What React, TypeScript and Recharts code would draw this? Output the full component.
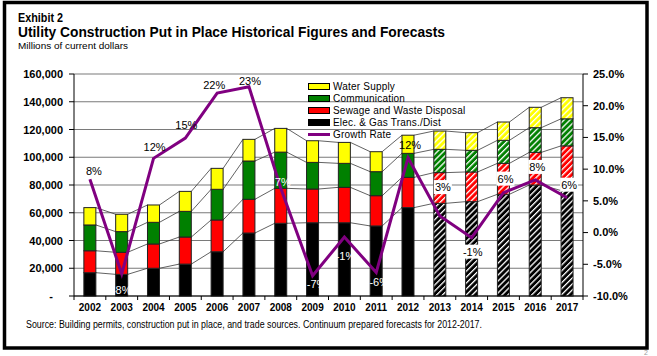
// Utility construction put in place: stacked bars + growth rate line (Recharts)

import { ComposedChart, Bar, Line, XAxis, YAxis, CartesianGrid, LabelList } from 'recharts';

const years = ['2002', '2003', '2004', '2005', '2006', '2007', '2008', '2009', '2010', '2011', '2012', '2013', '2014', '2015', '2016', '2017'];

// millions of current dollars
const elecGas = [16800, 15600, 20000, 23000, 31900, 45400, 52400, 52800, 52800, 50500, 63700, 66800, 68000, 73300, 80000, 76000];
const sewage = [15800, 15900, 17500, 19500, 22900, 24300, 25200, 24300, 25500, 21800, 21800, 22100, 21400, 22300, 23500, 32200];
const communication = [18600, 14900, 15600, 18500, 22100, 27600, 26100, 19200, 17300, 17300, 17300, 16800, 15600, 16600, 17800, 19500];
const waterSupply = [12500, 12500, 12500, 14400, 15100, 15600, 17100, 15600, 15100, 14400, 13100, 13200, 12700, 13200, 14700, 15200];

// percent
const growthRate = [8.4, -6.5, 11.7, 14.9, 22.0, 23.0, 7.0, -6.8, -0.7, -6.3, 11.8, 2.6, -0.8, 6.3, 8.3, 5.5];
const growthLabels = ['8%', '-8%', '12%', '15%', '22%', '23%', '7%', '-7%', '-1%', '-6%', '12%', '3%', '-1%', '6%', '8%', '6%'];

const leftTicks = [0, 20000, 40000, 60000, 80000, 100000, 120000, 140000, 160000];
const rightTicks = [-10, -5, 0, 5, 10, 15, 20, 25];

const FIRST_FORECAST = 11;

const rows = years.map((year, i) => ({
  year,
  elec: elecGas[i],
  sewage: sewage[i],
  comm: communication[i],
  water: waterSupply[i],
  growth: growthRate[i],
}));

const STACK = ['elec', 'sewage', 'comm', 'water'];

const W = 657;
const H = 356;
const PLOT_LEFT = 74;
const PLOT_RIGHT = 583;
const PLOT_BOTTOM = 296;
const RIGHT_AXIS_W = 60;
const BAND = (PLOT_RIGHT - PLOT_LEFT) / years.length;
const FONT = '"Liberation Sans", Arial, sans-serif';

// label placement for the growth rate points (offsets from the point)
const labelDx = [4, 0, 1, 1, -3, 1, 2, 4, 1, 3, 2, 3, 1, 2, 2, 2];
const labelDy = [-8, 16, -11, -13, -8, -6, -6, 8, 19, 9, -13, -29, 14, -14, -13, -13];
const whiteText = [1, 7, 8, 9, 6];

const cumTo = (row: any, key: string) => {
  let s = 0;
  for (const k of STACK) {
    s += row[k];
    if (k === key) break;
  }
  return s;
};

function makeShape(key: string, color: string, pattern: string) {
  return (props: any) => {
    const { x, y, width, height, index } = props;
    if (!height || height <= 0) return <g />;
    const row = rows[index];
    const next = rows[index + 1];
    const fill = index >= FIRST_FORECAST ? `url(#${pattern})` : color;
    let connector = null;
    if (next) {
      const k = height / row[key];
      const zero = y + height + (cumTo(row, key) - row[key]) * k;
      const nextTop = zero - cumTo(next, key) * k;
      connector = (
        <line x1={x + width} y1={y} x2={x + BAND} y2={nextTop} stroke="#3a3a3a" strokeWidth={0.8} />
      );
    }
    return (
      <g>
        <rect x={x} y={y} width={width} height={height} fill={fill} stroke="#222" strokeWidth={1} />
        {connector}
      </g>
    );
  };
}

const GrowthLabel = (props: any) => {
  const { x, y, index } = props;
  if (x == null || y == null) return null;
  const cx = x + labelDx[index];
  const cy = y + labelDy[index];
  const text = growthLabels[index];
  const boxed = index >= FIRST_FORECAST;
  const w = text.length * 6 + 6;
  return (
    <g>
      {boxed && <rect x={cx - w / 2} y={cy - 7} width={w} height={14} fill="#fff" />}
      <text
        x={cx}
        y={cy}
        textAnchor="middle"
        dominantBaseline="central"
        fontSize={11}
        fontFamily={FONT}
        fill={whiteText.includes(index) ? '#fff' : '#000'}
      >
        {text}
      </text>
    </g>
  );
};

const XTick = (props: any) => {
  const { x, payload, index } = props;
  return (
    <g>
      <line x1={x - BAND / 2} y1={PLOT_BOTTOM} x2={x - BAND / 2} y2={PLOT_BOTTOM + 4} stroke="#000" />
      {index === years.length - 1 && (
        <line x1={x + BAND / 2} y1={PLOT_BOTTOM} x2={x + BAND / 2} y2={PLOT_BOTTOM + 4} stroke="#000" />
      )}
      <text x={x} y={307} textAnchor="middle" dominantBaseline="central" fontSize={10} fontWeight="bold" fontFamily={FONT} fill="#000">
        {payload.value}
      </text>
    </g>
  );
};

const LeftTick = (props: any) => {
  const { x, y, payload } = props;
  const zero = payload.value === 0;
  return (
    <text x={zero ? x - 10 : x} y={y} textAnchor="end" dominantBaseline="central" fontSize={11} fontWeight="bold" fontFamily={FONT} fill="#000">
      {zero ? '-' : payload.value.toLocaleString('en-US')}
    </text>
  );
};

const legendItems = [
  { name: 'Water Supply', color: '#FFFF00' },
  { name: 'Communication', color: '#008000' },
  { name: 'Sewage and Waste Disposal', color: '#FF0000' },
  { name: 'Elec. & Gas Trans./Dist', color: '#000000' },
];

function ChartLegend() {
  return (
    <div style={{ position: 'absolute', left: 308, top: 80, fontFamily: FONT, fontSize: 10, color: '#000' }}>
      {legendItems.map((it) => (
        <div key={it.name} style={{ height: 12.2, display: 'flex', alignItems: 'center' }}>
          <span style={{ width: 20, height: 5, background: it.color, border: '1px solid #000', marginRight: 3 }} />
          <span style={{ letterSpacing: 0.2 }}>{it.name}</span>
        </div>
      ))}
      <div style={{ height: 12.2, display: 'flex', alignItems: 'center' }}>
        <span style={{ width: 22, height: 3, background: '#800080', marginRight: 3 }} />
        <span style={{ letterSpacing: 0.2 }}>Growth Rate</span>
      </div>
    </div>
  );
}

function Hatch({ id, color }: { id: string; color: string }) {
  return (
    <pattern id={id} patternUnits="userSpaceOnUse" width={4.2} height={4.2} patternTransform="rotate(45)">
      <rect x={0} y={0} width={4.2} height={4.2} fill={color} />
      <rect x={0} y={0} width={1.3} height={4.2} fill="#fff" />
    </pattern>
  );
}

export default function App() {
  return (
    <div style={{ position: 'absolute', left: 0, top: 0, width: W, height: H, background: '#fff' }}>
      <ComposedChart
        width={W}
        height={H}
        data={rows}
        margin={{ top: 74, right: W - PLOT_RIGHT - RIGHT_AXIS_W, left: 0, bottom: H - PLOT_BOTTOM - 20 }}
        barCategoryGap="31%"
      >
        <defs>
          <Hatch id="hatch-water" color="#FFFF00" />
          <Hatch id="hatch-comm" color="#008000" />
          <Hatch id="hatch-sewage" color="#FF0000" />
          <Hatch id="hatch-elec" color="#000000" />
        </defs>
        <CartesianGrid yAxisId="left" vertical={false} stroke="#7a7a7a" strokeWidth={1.2} />
        <XAxis dataKey="year" interval={0} height={20} tickLine={false} axisLine={{ stroke: '#000' }} tick={<XTick />} />
        <YAxis
          yAxisId="left"
          width={PLOT_LEFT}
          domain={[0, 160000]}
          ticks={leftTicks}
          tickSize={5}
          tickMargin={6}
          axisLine={{ stroke: '#000' }}
          tickLine={{ stroke: '#000' }}
          tick={<LeftTick />}
        />
        <YAxis
          yAxisId="right"
          orientation="right"
          width={RIGHT_AXIS_W}
          domain={[-10, 25]}
          ticks={rightTicks}
          tickSize={5}
          tickMargin={5}
          axisLine={{ stroke: '#000' }}
          tickLine={{ stroke: '#000' }}
          tickFormatter={(v: number) => `${v.toFixed(1)}%`}
          tick={{ fontSize: 11, fontWeight: 'bold', fontFamily: FONT, fill: '#000' }}
        />
        <Bar yAxisId="left" dataKey="elec" stackId="a" fill="#000000" isAnimationActive={false} shape={makeShape('elec', '#000000', 'hatch-elec')} />
        <Bar yAxisId="left" dataKey="sewage" stackId="a" fill="#FF0000" isAnimationActive={false} shape={makeShape('sewage', '#FF0000', 'hatch-sewage')} />
        <Bar yAxisId="left" dataKey="comm" stackId="a" fill="#008000" isAnimationActive={false} shape={makeShape('comm', '#008000', 'hatch-comm')} />
        <Bar yAxisId="left" dataKey="water" stackId="a" fill="#FFFF00" isAnimationActive={false} shape={makeShape('water', '#FFFF00', 'hatch-water')} />
        <Line
          yAxisId="right"
          dataKey="growth"
          stroke="#800080"
          strokeWidth={3}
          dot={false}
          activeDot={false}
          isAnimationActive={false}
        >
          <LabelList dataKey="growth" content={<GrowthLabel />} />
        </Line>
      </ComposedChart>

      <ChartLegend />

      <svg width={W} height={H} style={{ position: 'absolute', left: 0, top: 0, pointerEvents: 'none' }}>
        <rect x={4.5} y={2.5} width={642.5} height={345.5} fill="none" stroke="#000" strokeWidth={3.5} />
        <text x={18} y={22} fontSize={12} fontWeight="bold" fontFamily={FONT} textLength={45} lengthAdjust="spacingAndGlyphs">
          Exhibit 2
        </text>
        <text x={18} y={37} fontSize={14} fontWeight="bold" fontFamily={FONT} textLength={427} lengthAdjust="spacingAndGlyphs">
          Utility Construction Put in Place Historical Figures and Forecasts
        </text>
        <text x={18} y={49} fontSize={9.5} fontFamily={FONT} textLength={110} lengthAdjust="spacingAndGlyphs">
          Millions of current dollars
        </text>
        <text x={26} y={328} fontSize={10} fontFamily={FONT} textLength={456} lengthAdjust="spacingAndGlyphs">
          Source:  Building permits, construction put in place, and trade sources.  Continuum prepared forecasts for 2012-2017.
        </text>
        <text x={644} y={355} fontSize={7} fontFamily={FONT} fill="#999">
          2
        </text>
      </svg>
    </div>
  );
}
